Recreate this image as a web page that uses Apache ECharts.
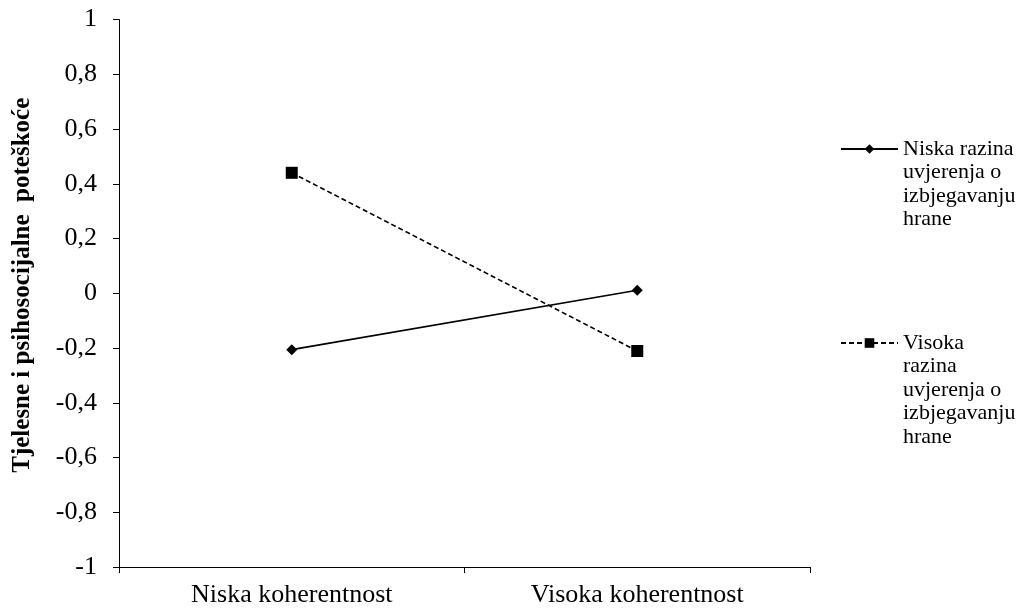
<!DOCTYPE html>
<html>
<head>
<meta charset="utf-8">
<script src="https://cdn.jsdelivr.net/npm/echarts@6/dist/echarts.min.js"></script>
<style>html,body{margin:0;padding:0;background:#fff;}#c{width:1023px;height:610px;}</style>
</head>
<body>
<div id="c"></div>
<script>
const categories = ['Niska koherentnost', 'Visoka koherentnost'];
const seriesNames = ['Niska razina\nuvjerenja o\nizbjegavanju\nhrane', 'Visoka\nrazina\nuvjerenja o\nizbjegavanju\nhrane'];
const nizkaRazina = [-0.206, 0.011];
const visokaRazina = [0.44, -0.211];
const yAxisTitle = 'Tjelesne i psihosocijalne  poteškoće';

const font = 'Liberation Serif, Times New Roman, serif';
const LH = 23.5;
const chart = echarts.init(document.getElementById('c'));
function legendCfg(name, iconY) {
  const n = name.split('\n').length;
  // pad with blank lines above so that the first line sits level with the icon
  const pre = '\n'.repeat(n - 1);
  return {
    data: [name], orient: 'vertical', left: 840,
    top: iconY - ((2 * n - 1) / 2) * LH, padding: 0,
    itemWidth: 57, itemHeight: 12, itemGap: 0, selectedMode: false,
    formatter: nm => pre + nm,
    textStyle: { fontFamily: font, fontSize: 22, color: '#000', lineHeight: LH }
  };
}
chart.setOption({
  animation: false,
  backgroundColor: '#fff',
  grid: { left: 119, right: 213, top: 19.5, bottom: 43, containLabel: false },
  legend: [legendCfg(seriesNames[0], 149), legendCfg(seriesNames[1], 343)],
  xAxis: {
    type: 'category', data: categories, boundaryGap: true,
    axisLine: { onZero: false, lineStyle: { color: '#000', width: 1 } },
    axisTick: { show: true, length: 6, inside: false, lineStyle: { color: '#000' } },
    axisLabel: { fontFamily: font, fontSize: 26, color: '#000', margin: 15 },
    splitLine: { show: false }
  },
  yAxis: {
    type: 'value', min: -1, max: 1, interval: 0.2,
    name: yAxisTitle, nameLocation: 'middle', nameGap: 84, nameRotate: 90,
    nameTextStyle: { fontFamily: font, fontSize: 25, fontWeight: 'bold', color: '#000', padding: [0, 0, 0, 16] },
    axisLine: { show: true, lineStyle: { color: '#000', width: 1 } },
    axisTick: { show: true, length: 6, lineStyle: { color: '#000' } },
    axisLabel: { fontFamily: font, fontSize: 26, color: '#000', margin: 22,
      formatter: v => String(Math.round(v * 10) / 10).replace('.', ',') },
    splitLine: { show: false }
  },
  series: [
    { name: seriesNames[0], type: 'line', data: nizkaRazina, symbol: 'diamond', symbolSize: 11,
      itemStyle: { color: '#000' }, lineStyle: { color: '#000', width: 1.6, type: 'solid' } },
    { name: seriesNames[1], type: 'line', data: visokaRazina, symbol: 'rect', symbolSize: 12,
      itemStyle: { color: '#000' }, lineStyle: { color: '#000', width: 1.6, type: [5, 3] } }
  ]
});
</script>
</body>
</html>
